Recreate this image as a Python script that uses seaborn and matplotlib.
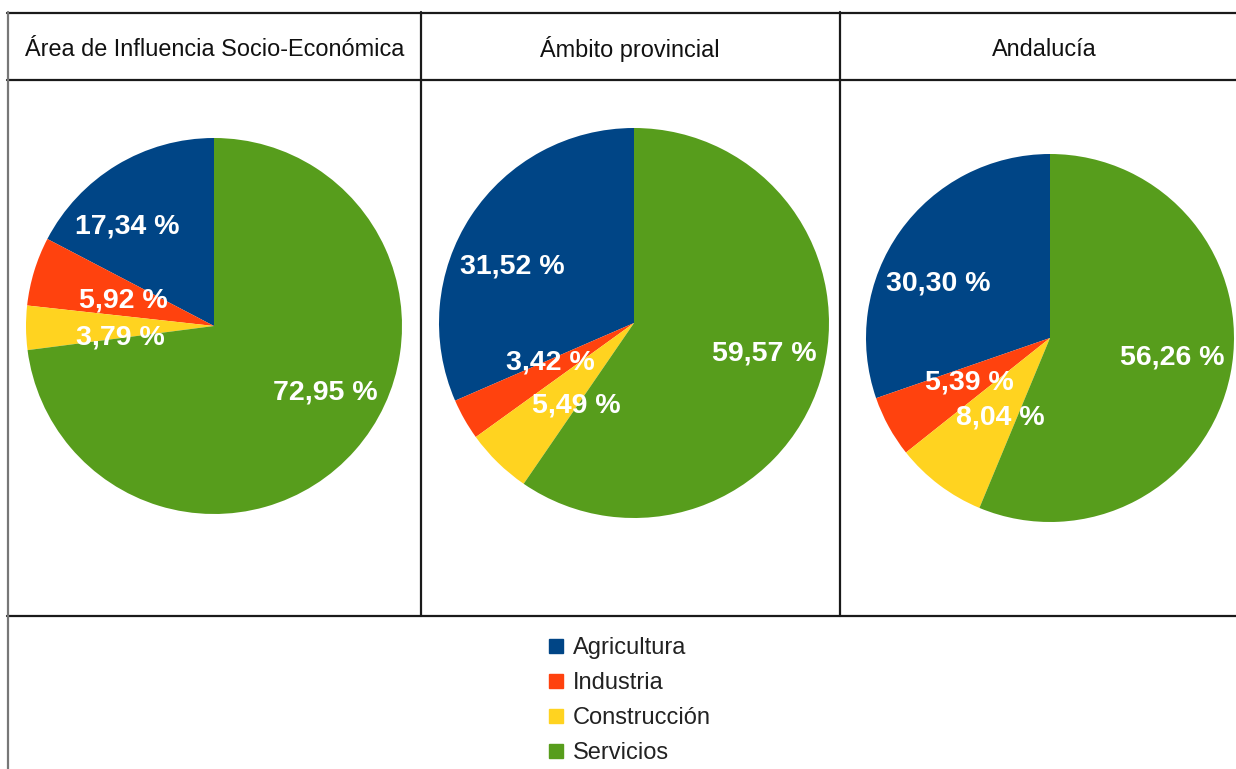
import numpy as np
import matplotlib
matplotlib.use('Agg')
import matplotlib.pyplot as plt
from matplotlib.lines import Line2D
import seaborn as sns

# Data
sectores = ['Agricultura', 'Industria', 'Construcción', 'Servicios']
titulos = ['Área de Influencia Socio-Económica', 'Ámbito provincial', 'Andalucía']
area_influencia = [17.34, 5.92, 3.79, 72.95]
ambito_provincial = [31.52, 3.42, 5.49, 59.57]
andalucia = [30.30, 5.39, 8.04, 56.26]
series = [area_influencia, ambito_provincial, andalucia]

colores = sns.color_palette(['#004586', '#ff420e', '#ffd320', '#579d1c'])

sns.set_theme(style='white')
plt.rcParams['font.family'] = ['Liberation Sans', 'DejaVu Sans']

W, H = 1236, 769
fig = plt.figure(figsize=(W / 100, H / 100), dpi=100)

# table frame drawn in pixel coords
frame = fig.add_axes([0, 0, 1, 1])
frame.set_xlim(0, W)
frame.set_ylim(H, 0)
frame.axis('off')
lc = '#1a1a1a'
frame.plot([7, W], [12.5, 12.5], color=lc, lw=1.6)
frame.plot([7, W], [80, 80], color=lc, lw=1.6)
frame.plot([7, W], [616, 616], color=lc, lw=1.6)
frame.plot([7.5, 7.5], [12, H], color='#777777', lw=1.6)
for xd in [421, 840]:
    frame.plot([xd, xd], [12, 616], color=lc, lw=1.6)

col_centers = [215, 630, 1044]
for xc, t in zip(col_centers, titulos):
    frame.text(xc, 49, t, ha='center', va='center', fontsize=16.9, color='#111111')

# pie geometry (pixel centre and radius)
pies_layout = [(214, 326, 188), (634, 323, 195), (1050, 338, 184)]
# label anchor per slice: (fraction of radius, angle in degrees)
label_polar = [
    [(0.70, 131), (0.50, 164), (0.50, 187), (0.69, -31)],
    [(0.69, 155), (0.475, 205), (0.515, 235), (0.685, -13)],
    [(0.673, 154), (0.50, 209), (0.51, 238), (0.671, -9)],
]

def fmt(v):
    return f'{v:.2f}'.replace('.', ',') + ' %'

for valores, (cx, cy, r), pos in zip(series, pies_layout, label_polar):
    ax = fig.add_axes([(cx - r) / W, (H - cy - r) / H, 2 * r / W, 2 * r / H])
    ax.pie(valores, colors=colores, startangle=90, counterclock=True,
           radius=1, wedgeprops=dict(linewidth=0))
    for v, (d, a) in zip(valores, pos):
        t = np.deg2rad(a)
        ax.text(d * np.cos(t), d * np.sin(t), fmt(v), ha='center', va='center',
                color='white', fontsize=20.5, fontweight='bold')
    ax.set_xlim(-1, 1)
    ax.set_ylim(-1, 1)
    ax.set_aspect('equal')
    ax.axis('off')

handles = [Line2D([], [], marker='s', linestyle='', markersize=10, color=c) for c in colores]
leg = fig.legend(handles, sectores, loc='upper left', bbox_to_anchor=(536 / W, 1 - 625 / H),
                 frameon=False, fontsize=17, handlelength=0.7, handletextpad=0.35,
                 labelspacing=0.55, borderpad=0)
for txt in leg.get_texts():
    txt.set_color('#222222')

fig.savefig('out.png', dpi=100)
